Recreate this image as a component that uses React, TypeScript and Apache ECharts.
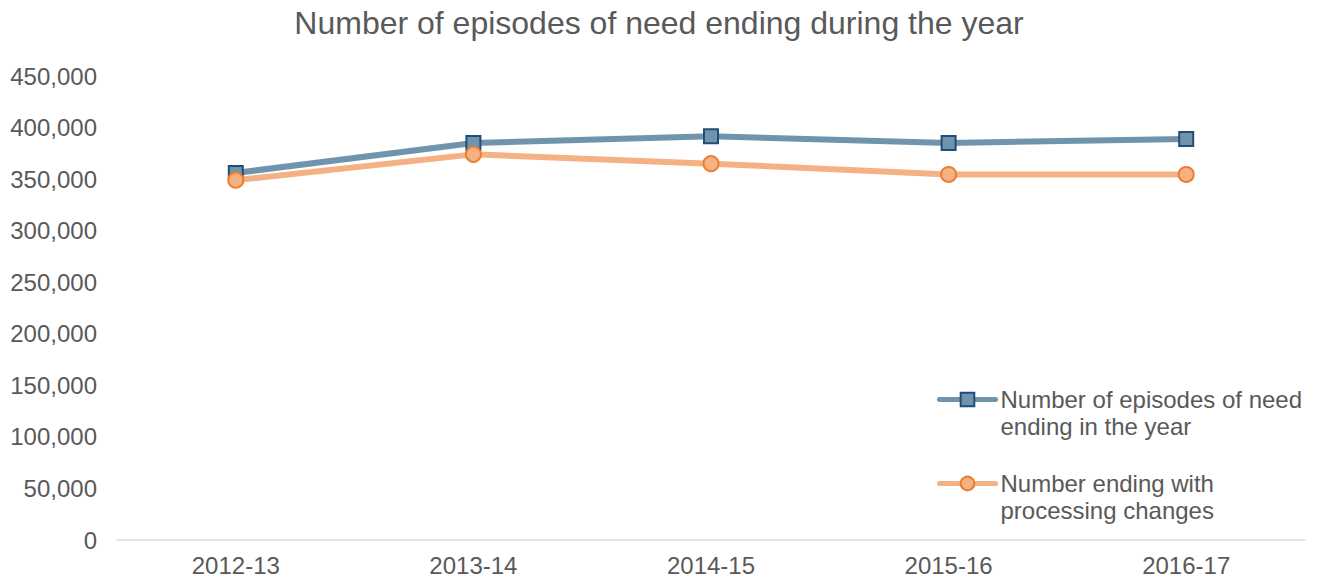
import React, { useEffect, useRef } from "react";
import * as echarts from "echarts";

const categories = ["2012-13", "2013-14", "2014-15", "2015-16", "2016-17"];
const episodesEnding = [356000, 385000, 391500, 385000, 389000];
const endingWithProcessing = [349000, 374000, 365000, 354500, 354500];
const seriesNames = ["Number of episodes of need ending in the year", "Number ending with processing changes"];
const legendLines: Record<string, string[]> = {
  "Number of episodes of need ending in the year": ["Number of episodes of need", "ending in the year"],
  "Number ending with processing changes": ["Number ending with", "processing changes"],
};
const chartTitle = "Number of episodes of need ending during the year";

const FONT = "'Liberation Sans', Arial, sans-serif";
const TXT = "#595959";

export default function App() {
  const ref = useRef<HTMLDivElement>(null);
  useEffect(() => {
    if (!ref.current) return;
    const chart = echarts.init(ref.current, null, { renderer: "svg" });
    chart.setOption({
      animation: false,
      backgroundColor: "#ffffff",
      textStyle: { fontFamily: FONT, color: TXT },
      title: {
        text: chartTitle,
        left: "center",
        top: 2,
        textStyle: { fontFamily: FONT, fontSize: 32, fontWeight: "normal", color: TXT },
      },
      grid: { left: 117, right: 13, top: 76, bottom: 42, containLabel: false },
      legend: {
        orient: "vertical",
        left: 932,
        top: 354,
        itemWidth: 56,
        itemHeight: 17,
        itemGap: 3,
        data: seriesNames,
        lineStyle: { width: 5, cap: "round" },
        formatter: (name: string) => "\n" + legendLines[name].join("\n"),
        textStyle: { fontFamily: FONT, fontSize: 24, color: TXT, lineHeight: 27 },
      },
      xAxis: {
        type: "category",
        data: categories,
        boundaryGap: true,
        axisLine: { lineStyle: { color: "#D9D9D9", width: 1.5 } },
        axisTick: { show: false },
        axisLabel: { color: TXT, fontSize: 24, fontFamily: FONT, margin: 13 },
      },
      yAxis: {
        type: "value",
        min: 0,
        max: 450000,
        interval: 50000,
        axisLine: { show: false },
        axisTick: { show: false },
        splitLine: { show: false },
        axisLabel: {
          color: TXT,
          fontSize: 24,
          fontFamily: FONT,
          margin: 20,
          formatter: (v: number) => v.toLocaleString("en-US"),
        },
      },
      series: [
        {
          name: seriesNames[0],
          type: "line",
          data: episodesEnding,
          symbol: "rect",
          symbolSize: 14,
          lineStyle: { color: "#7094AE", width: 6 },
          itemStyle: { color: "#7094AE", borderColor: "#1F4E79", borderWidth: 2 },
        },
        {
          name: seriesNames[1],
          type: "line",
          data: endingWithProcessing,
          symbol: "circle",
          symbolSize: 15,
          lineStyle: { color: "#F4B183", width: 6 },
          itemStyle: { color: "#F4B183", borderColor: "#ED7D31", borderWidth: 2 },
        },
      ],
    });
    return () => chart.dispose();
  }, []);
  return (
    <div
      ref={ref}
      style={{ position: "fixed", left: 0, top: 0, width: 1318, height: 582 }}
    />
  );
}
